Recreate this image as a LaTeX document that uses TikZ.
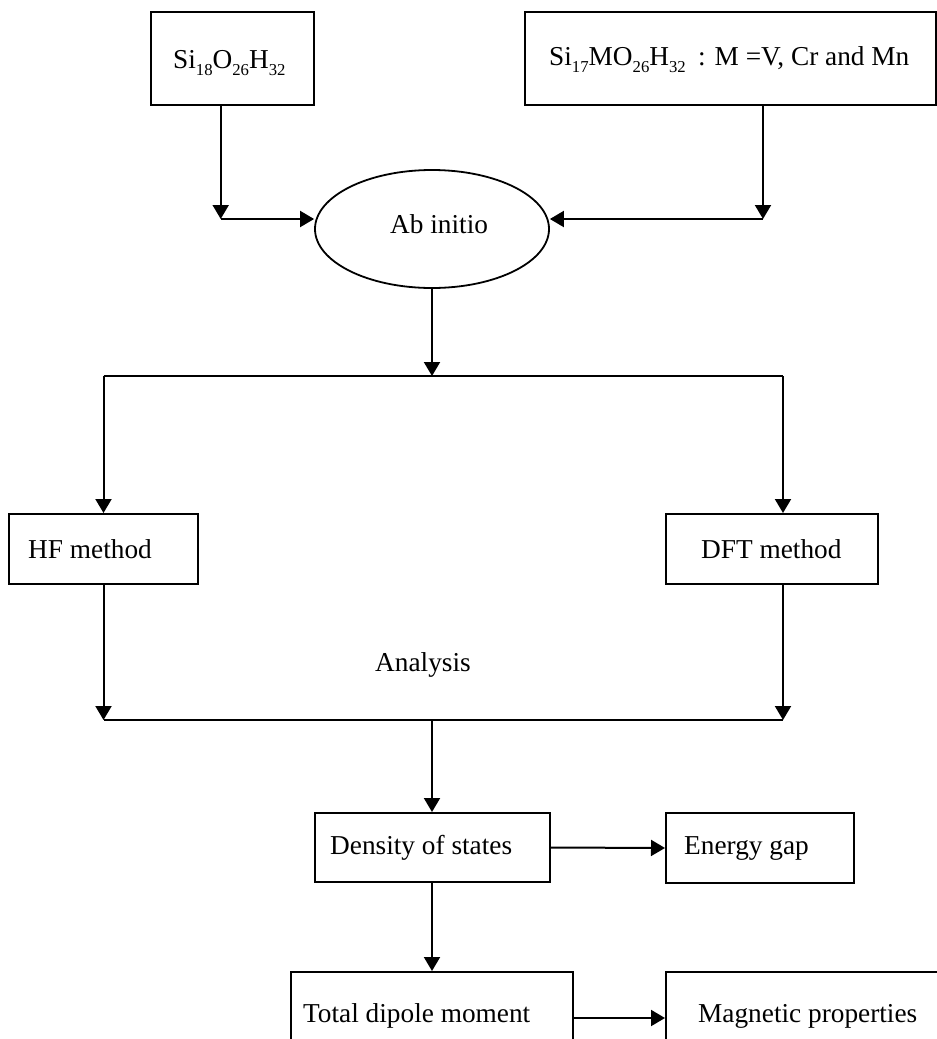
\documentclass[tikz,border=0pt]{standalone}
\usepackage{fontspec}
\setmainfont{Liberation Serif}
\usetikzlibrary{arrows.meta,shapes.geometric}
\newcommand{\sbs}[1]{\raisebox{-7.5pt}{\fontsize{16.7}{18}\selectfont #1}}
\tikzset{
  box/.style={draw, line width=2pt, rectangle, inner sep=0pt},
  lbl/.style={inner sep=0pt, anchor=base west, font=\fontsize{27.3}{32}\selectfont},
  arr/.style={line width=2pt, -{Triangle[length=14pt,width=16pt]}},
  ln/.style={line width=2pt}
}
\begin{document}
\begin{tikzpicture}[x=1pt,y=-1pt]
\useasboundingbox (0,0) rectangle (937,1039);
\fill[white] (0,0) rectangle (937,1039);
\clip (0,0) rectangle (937,1039);
% boxes
\node[box, minimum width=163pt, minimum height=93pt] (b1) at (232.5,58.5) {};
\node[box, minimum width=411pt, minimum height=93pt] (b2) at (730.5,58.5) {};
\node[draw, ellipse, line width=1.8pt, inner sep=0pt, minimum width=234pt, minimum height=118pt] (ell) at (432,229) {};
\node[box, minimum width=189pt, minimum height=70pt] (hf) at (103.5,549) {};
\node[box, minimum width=212pt, minimum height=70pt] (dft) at (772,549) {};
\node[box, minimum width=235pt, minimum height=69pt] (dos) at (432,847.5) {};
\node[box, minimum width=188pt, minimum height=70pt] (eg) at (760,848) {};
\node[box, minimum width=282pt, minimum height=98pt] (tdm) at (432,1021) {};
\node[box, minimum width=324pt, minimum height=98pt] (mag) at (828,1021) {};
% texts
\node[lbl] (t1) at (173,68) {Si\sbs{18}O\sbs{26}H\sbs{32}};
\node[lbl] (t2) at (549,65) {Si\sbs{17}MO\sbs{26}H\sbs{32}\hspace{0.45em}: M =V, Cr and Mn};
\node[lbl] (t3) at (390,233) {Ab initio};
\node[lbl] (t4) at (28,558) {HF method};
\node[lbl] (t5) at (701,558) {DFT method};
\node[lbl] (t6) at (375,671) {Analysis};
\node[lbl] (t7) at (330,854) {Density of states};
\node[lbl] (t8) at (684,854) {Energy gap};
\node[lbl] (t9) at (303,1022) {Total dipole moment};
\node[lbl] (t10) at (698,1022) {Magnetic properties};
% coordinates
\coordinate (c1) at (220.7,219);
\coordinate (c2) at (763,219);
\coordinate (s0) at (432,376);
\coordinate (sL) at (103.5,376);
\coordinate (sR) at (783,376);
\coordinate (aL) at (103.5,720);
\coordinate (aR) at (783,720);
\coordinate (aM) at (432,720);
\coordinate (r4) at (0,1018);
% connectors
\draw[arr] (c1 |- b1.south) -- (c1);
\draw[arr] (c1) -- (ell.west |- c1);
\draw[arr] (c2 |- b2.south) -- (c2);
\draw[arr] (c2) -- (ell.east |- c2);
\draw[arr] (ell.south) -- (s0);
\draw[ln] (sL) -- (sR);
\draw[arr] (sL) -- (hf.north);
\draw[arr] (sR) -- (sR |- dft.north);
\draw[arr] (hf.south) -- (aL);
\draw[arr] (sR |- dft.south) -- (aR);
\draw[ln] (aL) -- (aR);
\draw[arr] (aM) -- (dos.north);
\draw[arr] (dos.east) -- (eg.west);
\draw[arr] (dos.south) -- (tdm.north);
\draw[arr] (tdm.east |- r4) -- (mag.west |- r4);
\end{tikzpicture}
\end{document}
